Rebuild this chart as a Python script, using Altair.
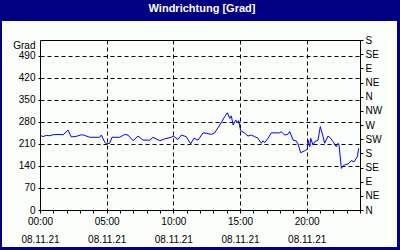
import altair as alt
import pandas as pd

# ---- data ----
hours = [0.00, 0.23, 0.47, 0.73, 0.98, 1.35, 1.73, 1.97, 2.10, 2.35, 2.72, 3.10, 3.35, 3.73,
         4.48, 4.60, 4.85, 4.97, 5.23, 5.40, 5.98, 6.35, 6.60, 6.98, 7.35, 7.73, 8.23, 8.48,
         8.98, 9.35, 9.85, 9.98, 10.35, 10.60, 10.97, 11.30, 11.55, 11.85, 12.23, 12.47, 12.85,
         13.10, 13.48, 13.85, 14.05, 14.23, 14.35, 14.48, 14.68, 14.80, 14.90, 15.05, 15.35,
         15.60, 15.85, 16.10, 16.35, 16.60, 16.73, 16.85, 17.10, 17.35, 17.98, 18.10, 18.35,
         18.60, 18.73, 18.98, 19.22, 19.35, 19.55, 19.85, 20.05, 20.10, 20.23, 20.30, 20.48,
         20.60, 20.85, 21.02, 21.23, 21.35, 21.60, 21.80, 21.98, 22.22, 22.35, 22.43, 22.60,
         22.73, 22.85, 23.10, 23.35, 23.55, 23.80, 23.90]
direction = [238, 233, 237, 236, 239, 240, 239, 248, 254, 232, 234, 239, 237, 231,
             231, 238, 216, 210, 212, 231, 231, 240, 238, 220, 235, 222, 222, 231,
             220, 226, 231, 235, 224, 238, 233, 210, 228, 222, 245, 244, 240,
             245, 270, 296, 309, 291, 299, 270, 286, 277, 284, 252, 244,
             235, 238, 233, 228, 212, 220, 214, 228, 245, 245, 249, 238,
             241, 249, 222, 219, 210, 182, 188, 193, 222, 201, 228, 206,
             217, 222, 265, 233, 212, 235, 228, 217, 201, 212, 206, 132,
             140, 143, 146, 157, 153, 169, 196]

x_tick_hours = [0, 5, 10, 15, 20]
x_tick_labels = ["00:00", "05:00", "10:00", "15:00", "20:00"]
date_label = "08.11.21"
left_ticks = [0, 70, 140, 210, 280, 350, 420, 490]
compass_values = [0, 45, 90, 135, 180, 225, 270, 315, 360, 405, 450, 495, 540]
compass_labels = ["N", "NE", "E", "SE", "S", "SW", "W", "NW", "N", "NE", "E", "SE", "S"]
title_text = "Windrichtung [Grad]"

df = pd.DataFrame({"h": hours, "deg": direction})

NAVY = "#000080"
FONT = "Liberation Sans"

# label expressions built from the arrays
xmap = "{" + ",".join(f"'{h}':'{l}'" for h, l in zip(x_tick_hours, x_tick_labels)) + "}"
x_label_expr = (f"indexof({x_tick_hours}, datum.value) >= 0 ? "
                f"[{xmap}[''+datum.value], '{date_label}'] : ''")
cmap = "{" + ",".join(f"'{v}':'{l}'" for v, l in zip(compass_values, compass_labels)) + "}"
c_label_expr = f"{cmap}['' + datum.value]"

xscale = alt.Scale(domain=[0, 24], nice=False, zero=False)
yscale = alt.Scale(domain=[0, 540], nice=False, zero=False)

x_axis = alt.Axis(
    values=list(range(0, 25)), title="", domain=False,
    tickSize=3, tickColor="black", labelPadding=3,
    labelExpr=x_label_expr, labelOverlap=False, labelBound=False, labelFlush=False,
    labelBaseline="top", labelLineHeight=18, labelColor="black",
    labelFont=FONT, labelFontSize=10,
    grid=True, gridColor="black", gridDash=[4, 3], gridWidth=1,
    gridOpacity={"condition": {"test": f"indexof({x_tick_hours}, datum.value) > 0", "value": 1}, "value": 0},
)

line = alt.Chart(df).mark_line(color="#0000FF", strokeWidth=1).encode(
    x=alt.X("h:Q", scale=xscale, axis=x_axis),
    y=alt.Y("deg:Q", scale=yscale, axis=alt.Axis(
        values=left_ticks, orient="left", domain=False, tickSize=2, tickColor="black",
        labelPadding=3, labelColor="black", labelFont=FONT, labelFontSize=10,
        grid=True, gridColor="black", gridDash=[4, 3],
        title="Grad", titleAngle=0, titleAlign="right", titleBaseline="middle",
        titleX=-5, titleY=5, titleFont=FONT, titleFontSize=10, titleFontWeight="normal",
        titleColor="black",
    )),
)

right = alt.Chart(df).mark_line(opacity=0).encode(
    x=alt.X("h:Q", scale=xscale, axis=x_axis),
    y=alt.Y("deg:Q", scale=yscale, axis=alt.Axis(
        values=compass_values, orient="right", domain=False, tickSize=3, tickColor="black",
        labelPadding=2, labelExpr=c_label_expr, labelColor="black", labelFont=FONT,
        labelFontSize=10, grid=False, title="", labelOverlap=False, labelBound=False,
    )),
)

one = alt.Data(values=[{}])
band = alt.Chart(one).mark_rect(color=NAVY).encode(
    x=alt.value(-40), x2=alt.value(360), y=alt.value(-40), y2=alt.value(-19))
left_b = alt.Chart(one).mark_rect(color=NAVY).encode(
    x=alt.value(-40), x2=alt.value(-38), y=alt.value(-40), y2=alt.value(210))
right_b = alt.Chart(one).mark_rect(color=NAVY).encode(
    x=alt.value(357), x2=alt.value(360), y=alt.value(-40), y2=alt.value(210))
bottom_b = alt.Chart(one).mark_rect(color=NAVY).encode(
    x=alt.value(-40), x2=alt.value(360), y=alt.value(207), y2=alt.value(210))
title = alt.Chart(alt.Data(values=[{"t": title_text}])).mark_text(
    color="white", font=FONT, fontSize=11, fontWeight="bold", baseline="middle", align="center"
).encode(x=alt.value(162), y=alt.value(-31), text="t:N")

chart = alt.layer(band, left_b, right_b, bottom_b, title, right, line).resolve_axis(
    y="independent"
).properties(
    width=320, height=170,
    padding={"left": 40, "top": 40, "right": 40, "bottom": 40},
    autosize=alt.AutoSizeParams(type="none"),
    background="#FAFDFA",
).configure_view(stroke="black", strokeWidth=1)

chart.save("out.html", embed_options={"renderer": "svg", "actions": False})
